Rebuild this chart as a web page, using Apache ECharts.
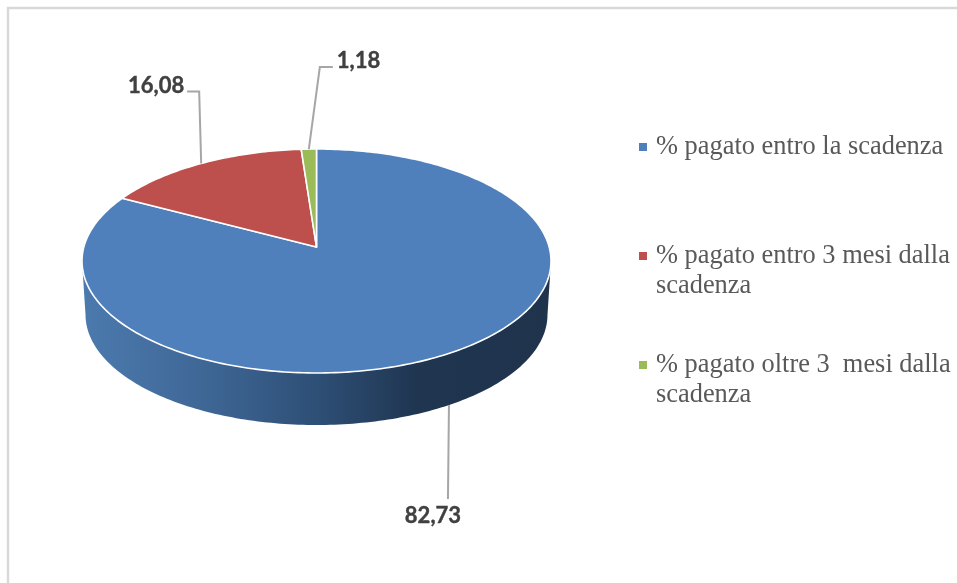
<!DOCTYPE html>
<html><head><meta charset="utf-8">
<style>html,body{margin:0;padding:0;background:#fff}#c{width:957px;height:583px}</style>
<script src="https://cdn.jsdelivr.net/npm/echarts@6/dist/echarts.min.js"></script>
</head><body><div id="c"></div>
<script>
const sliceNames = ['% pagato entro la scadenza', '% pagato entro 3 mesi dalla scadenza', '% pagato oltre 3  mesi dalla scadenza'];
const legendLines = [['% pagato entro la scadenza'], ['% pagato entro 3 mesi dalla', 'scadenza'], ['% pagato oltre 3  mesi dalla', 'scadenza']];
const sliceValues = [82.73, 16.08, 1.18];
const sliceColors = ['#4f80bc', '#bd4f4c', '#9bbb59'];

// perspective model of the tilted disc
const CX = 316.5, TOP_Y = 247, A = 232.66, B = 110.25, P = 0.125;
const BOTTOM_Y = 300.9, BOTTOM_SCALE = 0.985;
const total = sliceValues.reduce((a, b) => a + b, 0);
function project(frac, y0, s) {
  const t = frac * 2 * Math.PI, u = Math.sin(t), v = Math.cos(t), d = 1 + P * v;
  return [CX + s * A * u / d, y0 - s * B * v / d];
}
const top_ = f => project(f, TOP_Y, 1);
const bot_ = f => project(f, BOTTOM_Y, BOTTOM_SCALE);
function arc(fn, f0, f1) {
  const n = Math.max(2, Math.ceil(Math.abs(f1 - f0) * 360)), pts = [];
  for (let i = 0; i <= n; i++) pts.push(fn(f0 + (f1 - f0) * i / n));
  return pts;
}
const wallStart = 0.25 + Math.asin(P) / (2 * Math.PI);
const wallEnd = 0.75 - Math.asin(P) / (2 * Math.PI);
function wallElement() {
  return {
    type: 'polygon',
    shape: { points: arc(top_, wallStart, wallEnd).concat(arc(bot_, wallEnd, wallStart)) },
    style: {
      fill: new echarts.graphic.LinearGradient(0, 0, 1, 0, [
        { offset: 0, color: '#4c7aae' },
        { offset: 0.25, color: '#3f6897' },
        { offset: 0.5, color: '#2e4f76' },
        { offset: 0.72, color: '#1f3550' },
        { offset: 1, color: '#1f334d' }
      ])
    }
  };
}
// leader routes: elbow offsets from each slice's anchor, then text offset from the last point
const leaders = [
  { edge: bot_, bends: [[-1, 94]], text: [-15, 17], align: 'center' },
  { edge: top_, bends: [[-2, -72], [-14, -72]], text: [-3, -6], align: 'right' },
  { edge: top_, bends: [[11, -82], [24, -82]], text: [4, -6], align: 'left' }
];
function renderSlice(i) {
  return function (params, api) {
    const value = api.value(0);
    const before = sliceValues.slice(0, i).reduce((a, b) => a + b, 0);
    const f0 = before / total, f1 = (before + value) / total, mid = (f0 + f1) / 2;
    const children = [];
    if (i === 0) children.push(wallElement());
    children.push({
      type: 'polygon',
      shape: { points: [[CX, TOP_Y]].concat(arc(top_, f0, f1)) },
      style: { fill: sliceColors[i], stroke: '#fff', lineWidth: 1.6, lineJoin: 'round' }
    });
    const L = leaders[i], a = L.edge(mid);
    const pts = [a].concat(L.bends.map(b => [a[0] + b[0], a[1] + b[1]]));
    const end = pts[pts.length - 1];
    children.push({
      type: 'polyline', shape: { points: pts },
      style: { stroke: '#a6a6a6', lineWidth: 2, fill: 'none' }
    });
    children.push({
      type: 'text',
      style: {
        x: end[0] + L.text[0], y: end[1] + L.text[1],
        text: value.toFixed(2).replace('.', ','),
        fill: '#404040', font: 'bold 22px Lato',
        stroke: '#404040', lineWidth: 0.4,
        textAlign: L.align, textVerticalAlign: 'middle'
      }
    });
    return { type: 'group', children };
  };
}
const legendTops = [132, 211, 320];
const LEGEND_FONT = { fontFamily: 'Liberation Serif', fontSize: 26.4, color: '#595959', lineHeight: 30 };
const option = {
  animation: false,
  backgroundColor: '#fff',
  graphic: [
    { type: 'line', shape: { x1: 7, y1: 8, x2: 957, y2: 8 }, style: { stroke: '#d9d9d9', lineWidth: 2.5 } },
    { type: 'line', shape: { x1: 8, y1: 7, x2: 8, y2: 583 }, style: { stroke: '#d9d9d9', lineWidth: 2.5 } }
  ],
  legend: sliceNames.map((n, i) => ({
    data: [n],
    left: 639, top: legendTops[i],
    padding: 0, itemWidth: 8, itemHeight: 8,
    icon: 'rect', selectedMode: false,
    // a blank first line keeps the marker level with the first written line
    formatter: () => (legendLines[i].length > 1 ? '\n' : '') + legendLines[i].join('\n'),
    textStyle: Object.assign({}, LEGEND_FONT, { padding: [0, 0, 0, 4] })
  })),
  series: sliceNames.map((n, i) => ({
    type: 'custom', name: n, coordinateSystem: 'none',
    silent: true, z: 2 + i,
    itemStyle: { color: sliceColors[i] },
    data: [[sliceValues[i]]],
    renderItem: renderSlice(i)
  }))
};
echarts.init(document.getElementById('c')).setOption(option);
</script></body></html>
